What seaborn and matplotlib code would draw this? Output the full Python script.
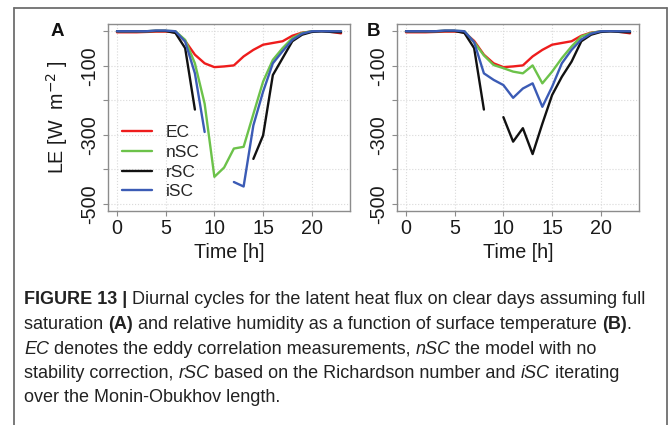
import matplotlib
matplotlib.use("Agg")
import matplotlib.pyplot as plt
import numpy as np
import pandas as pd
import seaborn as sns
from matplotlib.lines import Line2D

nan = np.nan

# ---------------------------------------------------------------- data
HOURS = list(range(24))
MODELS = ["EC", "nSC", "rSC", "iSC"]
COLORS = {"EC": "#ee1c1c", "nSC": "#6cc24a", "rSC": "#111111", "iSC": "#3b5bb5"}

EC = [-3, -3, -3, -2, -1, -1, -3, -28, -68, -93, -104, -102, -99, -73,
      -54, -39, -34, -29, -13, -4, -1, 0, -2, -6]

# panel A: full saturation
NSC_A = [0, 0, 0, 0, 1, 1, 0, -25, -93, -210, -422, -395, -340, -335,
         -240, -146, -83, -49, -20, -5, 0, 0, 0, 0]
RSC_A = [0, 0, 0, 0, 1, 1, -5, -49, -227, nan, nan, nan, nan, nan,
         -370, -302, -127, -78, -29, -10, -2, 0, -2, -3]
ISC_A = [0, 0, 0, 0, 2, 2, 0, -30, -122, -292, nan, nan, -437, -450,
         -273, -175, -93, -58, -25, -7, 0, 0, 0, 0]

# panel B: relative humidity from surface temperature
NSC_B = [0, 0, 0, 0, 1, 1, 0, -32, -70, -98, -107, -117, -122, -99,
         -151, -117, -78, -44, -15, -5, 0, 0, 0, 0]
RSC_B = [0, 0, 0, 0, 1, 1, -5, -49, -227, nan, -249, -320, -281, -356,
         -268, -185, -132, -88, -29, -10, -2, 0, -2, -3]
ISC_B = [0, 0, 0, 0, 2, 2, 0, -32, -122, -141, -156, -193, -166, -151,
         -219, -161, -93, -54, -24, -7, 0, 0, 0, 0]

PANELS = {
    "A": {"EC": EC, "nSC": NSC_A, "rSC": RSC_A, "iSC": ISC_A},
    "B": {"EC": EC, "nSC": NSC_B, "rSC": RSC_B, "iSC": ISC_B},
}

CAPTION = [
    [("FIGURE 13 | ", "bold"),
     ("Diurnal cycles for the latent heat flux on clear days assuming full", "normal")],
    [("saturation ", "normal"), ("(A)", "bold"),
     (" and relative humidity as a function of surface temperature ", "normal"),
     ("(B)", "bold"), (".", "normal")],
    [("EC", "italic"), (" denotes the eddy correlation measurements, ", "normal"),
     ("nSC", "italic"), (" the model with no", "normal")],
    [("stability correction, ", "normal"), ("rSC", "italic"),
     (" based on the Richardson number and ", "normal"), ("iSC", "italic"),
     (" iterating", "normal")],
    [("over the Monin-Obukhov length.", "normal")],
]


def long_frame(series: dict) -> pd.DataFrame:
    """Long table; a NaN starts a new segment so the gaps stay open."""
    parts = []
    for m in MODELS:
        v = np.asarray(series[m], dtype=float)
        seg = np.cumsum(np.isnan(v))
        d = pd.DataFrame({"hour": HOURS, "LE": v, "model": m,
                          "seg": [f"{m}{s}" for s in seg]})
        parts.append(d.dropna())
    return pd.concat(parts, ignore_index=True)


sns.set_theme(style="white")
plt.rcParams["font.family"] = ["Liberation Sans", "DejaVu Sans"]

W, H = 669, 425
fig = plt.figure(figsize=(W / 100, H / 100), dpi=100)
TXT = "#1a1a1a"
FS = 14.2

AX_POS = {"A": (108, 24, 350, 211), "B": (397, 24, 639, 211)}
for key, (x0, y0, x1, y1) in AX_POS.items():
    ax = fig.add_axes([x0 / W, 1 - y1 / H, (x1 - x0) / W, (y1 - y0) / H])
    df = long_frame(PANELS[key])
    sns.lineplot(data=df, x="hour", y="LE", hue="model", units="seg",
                 estimator=None, hue_order=MODELS, palette=COLORS,
                 lw=1.7, ax=ax, legend=(key == "A"))

    ax.set_xlim(-0.92, 23.92)
    ax.set_ylim(-521, 21)
    ax.set_xticks([0, 5, 10, 15, 20])
    ax.set_yticks([0, -100, -200, -300, -400, -500])
    ax.set_yticklabels(["", "-100", "", "-300", "", "-500"], rotation=90, va="center")
    ax.grid(True, color="#d9d9d9", ls=":", lw=0.8)
    for s in ax.spines.values():
        s.set_color("#8c8c8c")
        s.set_linewidth(1.0)
    ax.tick_params(axis="both", which="both", direction="out", length=3.5,
                   width=0.8, color="#8c8c8c", labelsize=FS, pad=2,
                   labelcolor=TXT, bottom=True, left=True)
    ax.tick_params(axis="y", pad=3)
    ax.set_xlabel("Time [h]", fontsize=FS, labelpad=4, color=TXT)
    if key == "A":
        ax.set_ylabel(r"LE [W  m$^{-2}$ ]", fontsize=FS, labelpad=7, color=TXT)
        sns.move_legend(ax, "center left", bbox_to_anchor=(0.057, 0.26),
                        frameon=False, title=None, fontsize=12.5,
                        handlelength=1.75, handletextpad=0.8,
                        labelspacing=0.26, borderpad=0, borderaxespad=0)
    else:
        ax.set_ylabel("")
    fig.text((x0 - 51 if key == "A" else x0 - 24) / W, 1 - 32 / H, key,
             fontsize=13.5, fontweight="bold", ha="center", va="center",
             color="#111111")

# grey figure frame (open at the bottom)
fc = "#6e6e6e"
for xs, ys in [([14, 14], [425, 8]), ([14, 667], [8, 8]), ([667, 667], [8, 425])]:
    fig.add_artist(Line2D([x / W for x in xs], [1 - y / H for y in ys],
                          color=fc, lw=1.3, transform=fig.transFigure))

# caption with mixed bold / italic runs
renderer = fig.canvas.get_renderer()
line_y = [300, 324.5, 349, 373, 397]
for runs, yy in zip(CAPTION, line_y):
    xpix = 24
    for text, style in runs:
        t = fig.text(xpix / W, 1 - yy / H, text, fontsize=13.0, va="center",
                     ha="left", color="#222222",
                     fontweight="bold" if style == "bold" else "normal",
                     fontstyle="italic" if style == "italic" else "normal")
        xpix += t.get_window_extent(renderer).width

fig.savefig("out.png", dpi=100)
